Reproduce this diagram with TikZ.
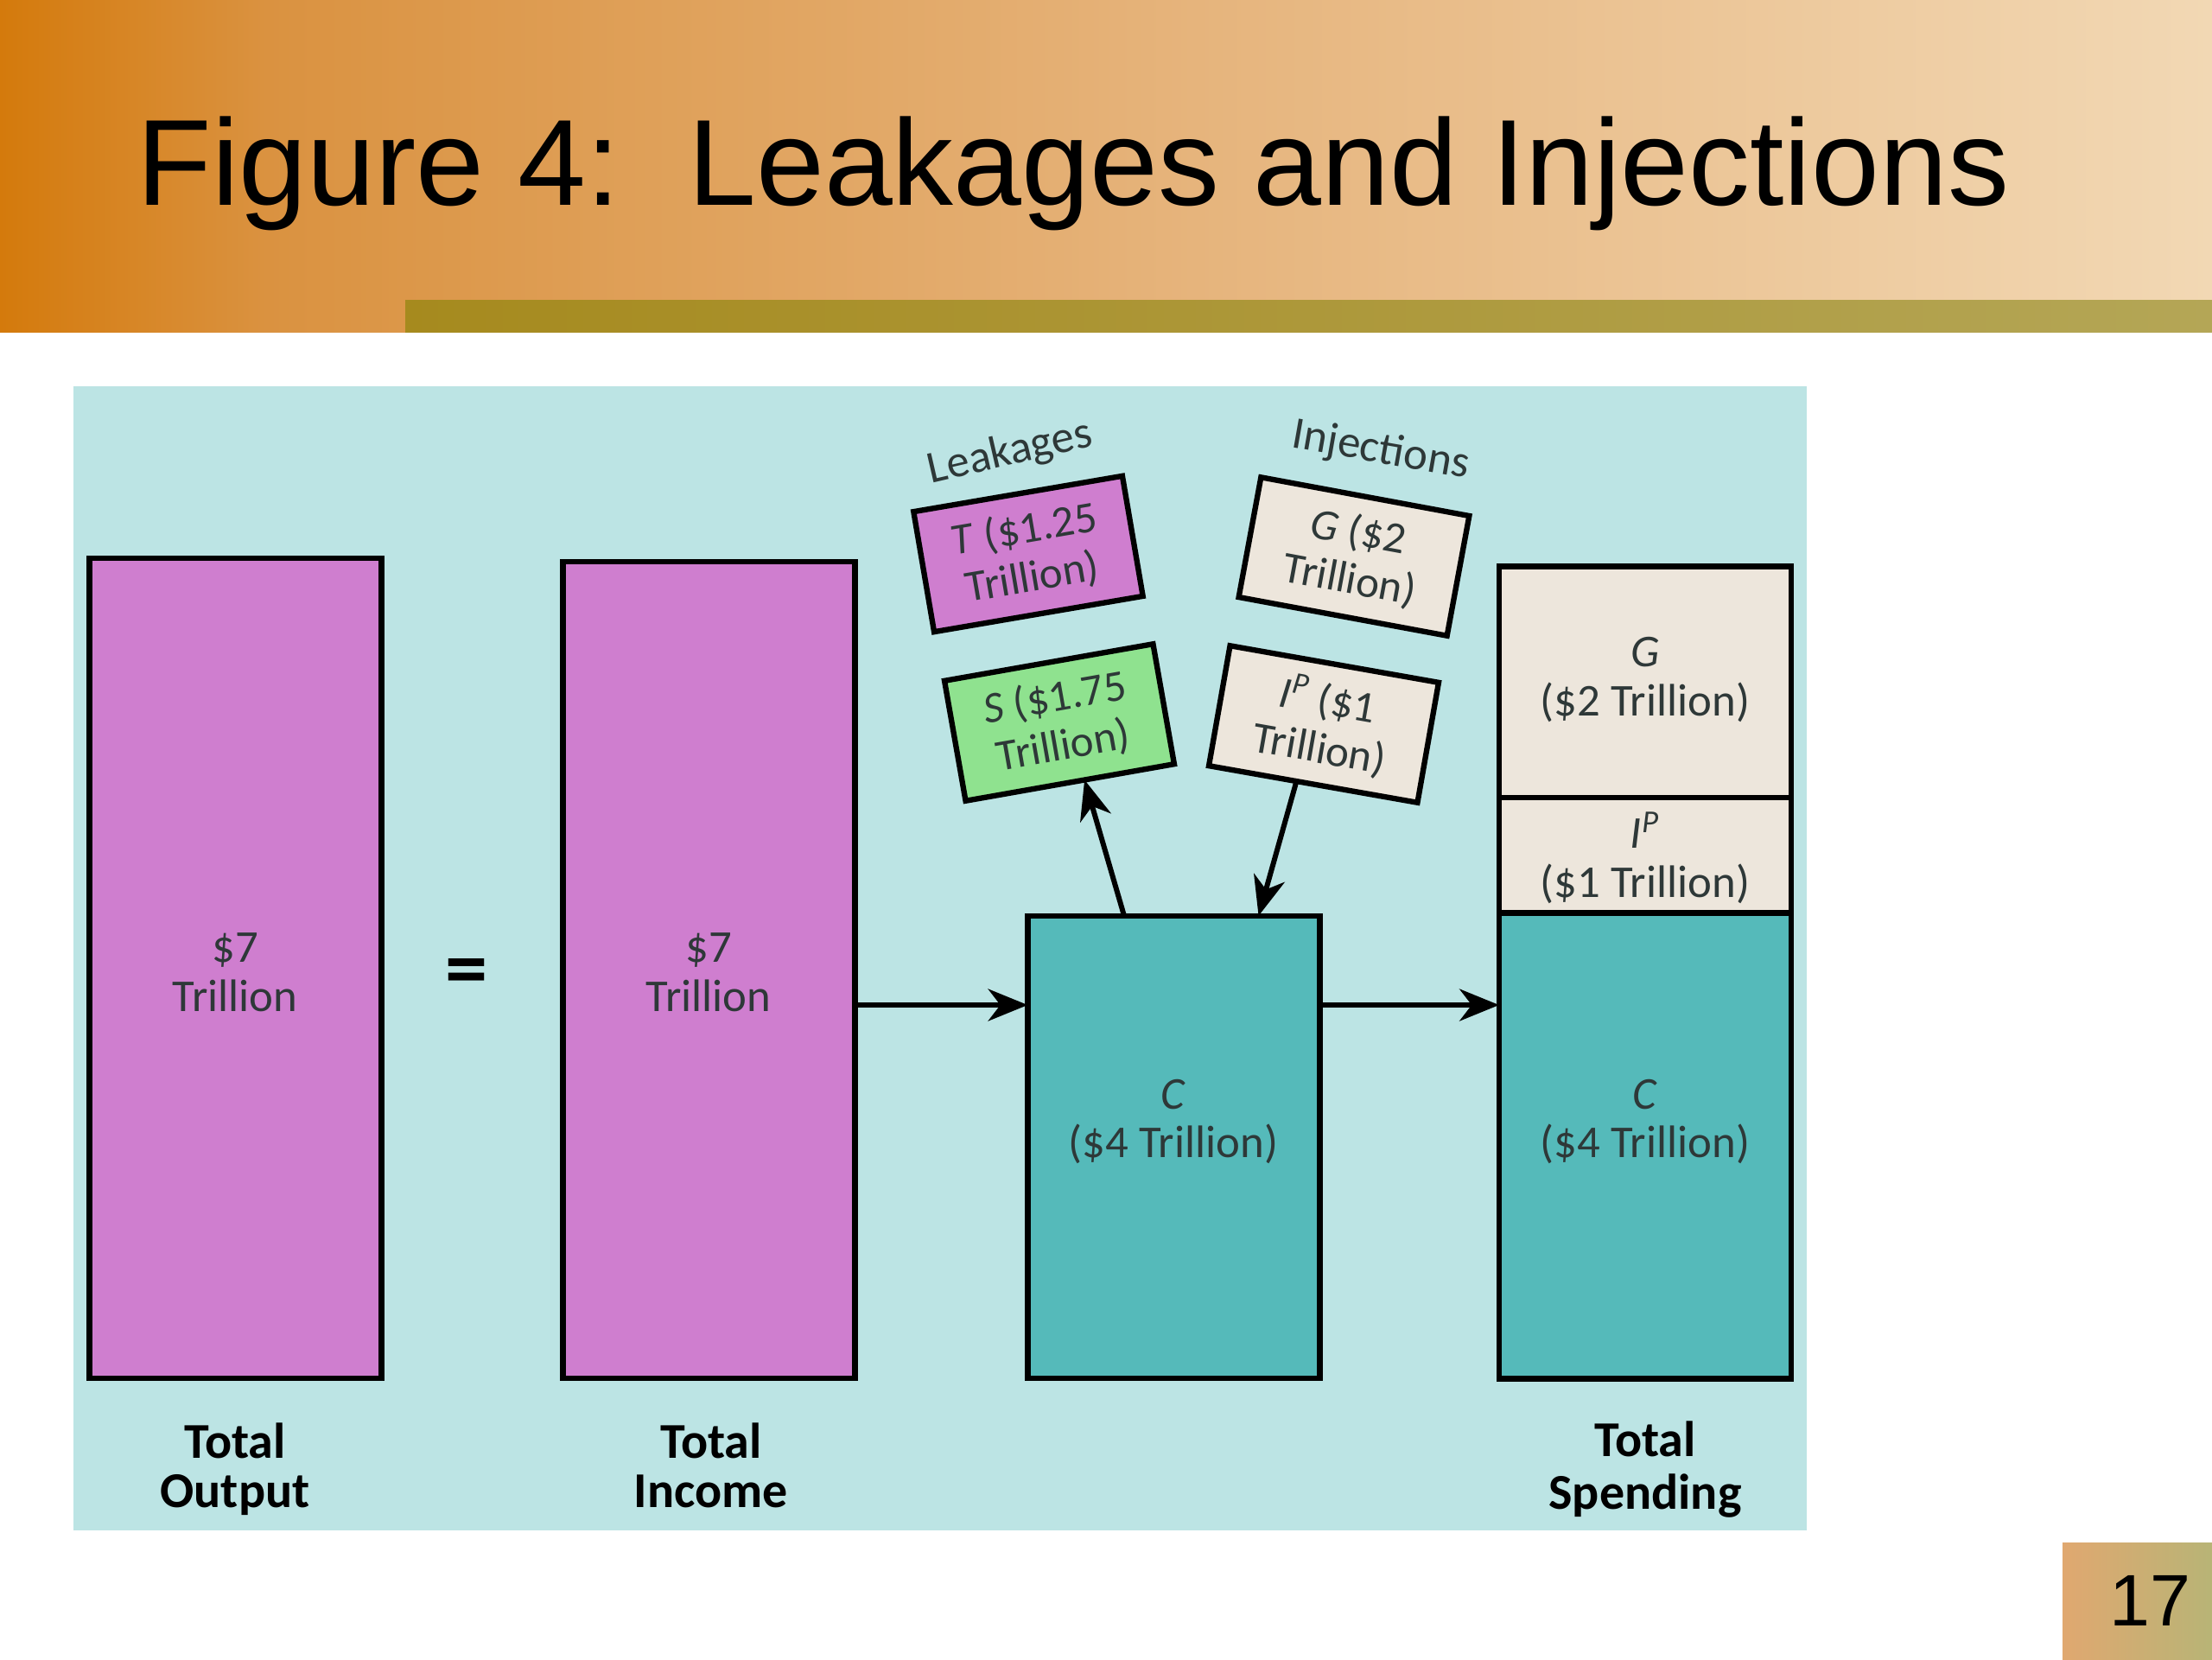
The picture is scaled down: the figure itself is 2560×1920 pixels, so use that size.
\documentclass[tikz,border=0pt]{standalone}
\usepackage{fontspec}
\setmainfont{Liberation Sans}
\newfontfamily\cf{Carlito}
\usetikzlibrary{arrows.meta,calc}
\definecolor{panel}{HTML}{BCE4E4}
\definecolor{mag}{HTML}{CF7ECF}
\definecolor{tealc}{HTML}{55BABA}
\definecolor{beige}{HTML}{EDE6DC}
\definecolor{grn}{HTML}{8FE28F}
\definecolor{txt}{HTML}{2E3838}
\definecolor{tl0}{HTML}{D47A0C}
\definecolor{tl1}{HTML}{DA9240}
\definecolor{tl2}{HTML}{E6B47C}
\definecolor{tl3}{HTML}{F2D8B4}
\definecolor{ol0}{HTML}{A68A1E}
\definecolor{ol1}{HTML}{B4A656}
\definecolor{pg0}{HTML}{E0A870}
\definecolor{pg1}{HTML}{B8B476}
\pgfdeclarehorizontalshading{titlebar}{100bp}{color(0bp)=(tl0); color(25bp)=(tl0); color(31bp)=(tl1); color(52bp)=(tl2); color(75bp)=(tl3); color(100bp)=(tl3)}
\begin{document}
\begin{tikzpicture}[x=0.01cm,y=-0.01cm,
  bar/.style={draw=black,line width=1.8pt,inner sep=0pt,outer sep=0pt,minimum width=3.38cm},
  intext/.style={font=\cf\fontsize{15}{16.2}\selectfont,text=txt,align=center,inner sep=0pt},
  tag/.style={draw=black,line width=1.8pt,inner sep=0pt,outer sep=0pt,minimum width=2.45cm,minimum height=1.41cm,font=\cf\fontsize{14.5}{16}\selectfont,text=txt,align=center},
  total/.style={font=\cf\bfseries\fontsize{16.5}{16.2}\selectfont,align=center,inner sep=0pt},
  flow/.style={-{Stealth[length=13pt,width=10.5pt,inset=4pt]},line width=1.7pt},
  grp/.style={font=\cf\fontsize{15}{18}\selectfont,text=txt,inner sep=0pt}]
\useasboundingbox (0,0) rectangle (2560,1920);
\fill[white] (0,0) rectangle (2560,1920);
% title bar
\shade[shading=titlebar] (0,0) rectangle (2560,384);
\shade[left color=ol0,right color=ol1] (469,347) rectangle (2560,384);
\node[anchor=base west,inner sep=0pt,font=\fontsize{40.3}{48}\selectfont] (title) at (158,237) {Figure 4:~~Leakages and Injections};
% panel
\fill[panel] (85,447) rectangle (2091,1771);
% bars
\node[bar,fill=mag,minimum height=9.48cm] (out) at (272.5,1120.5) {};
\node[intext] (outt) at (272,1125) {\$7\\Trillion};
\node[bar,fill=mag,minimum height=9.45cm] (inc) at (820.5,1122.5) {};
\node[intext] (inct) at (820,1125) {\$7\\Trillion};
\node[font=\cf\bfseries\fontsize{28}{30}\selectfont,inner sep=0pt] (eq) at (540,1132) {=};
\node[bar,fill=tealc,minimum height=5.35cm] (cbox) at (1358.5,1327.5) {};
\node[intext] (ct) at (1358,1298) {\textit{C}\\(\$4 Trillion)};
% spending column
\node[bar,fill=beige,minimum height=2.675cm] (sg) at (1904,789.25) {};
\node[intext] (sgt) at (1904,787) {\textit{G}\\(\$2 Trillion)};
\node[bar,fill=beige,minimum height=1.34cm] (si) at (1904,990) {};
\node[intext] (sit) at (1904,993) {\textit{I}\textsuperscript{\textit{P}}\\(\$1 Trillion)};
\node[bar,fill=tealc,minimum height=5.385cm] (sc) at (1904,1326) {};
\node[intext] (sct) at (1904,1298) {\textit{C}\\(\$4 Trillion)};
% totals
\node[total] (tout) at (272,1704) {Total\strut\\Output\strut};
\node[total] (tinc) at (823,1704) {Total\strut\\Income\strut};
\node[total] (tspd) at (1904,1704) {Total\strut\\Spending\strut};
% leakages / injections
\node[grp,rotate=13] (leak) at (1169,524) {Leakages};
\node[grp,rotate=-10] (inj) at (1598,522) {Injections};
\node[tag,fill=mag,rotate=9.7] (T) at (1190,641) {\textit{T} (\$1.25\\Trillion)};
\node[tag,fill=grn,rotate=10] (S) at (1226,836) {\textit{S} (\$1.75\\Trillion)};
\node[tag,fill=beige,rotate=-10.5] (G) at (1567,644) {\textit{G} (\$2\\Trillion)};
\node[tag,fill=beige,rotate=-10] (IP) at (1532,838) {\textit{I}\textsuperscript{\textit{P}} (\$1\\Trillion)};
% arrows
\coordinate (flowy) at (0,1163);
\draw[flow] (inc.east |- flowy) -- (cbox.west |- flowy);
\draw[flow] (cbox.east |- flowy) -- (sc.west |- flowy);
\draw[flow] ($(cbox.north west)!0.33!(cbox.north east)$) -- ($(S.south west)!0.57!(S.south east)$);
\draw[flow] ($(IP.south west)!0.42!(IP.south east)$) -- ($(cbox.north west)!0.79!(cbox.north east)$);
% page number
\shade[left color=pg0,right color=pg1] (2387,1785) rectangle (2560,1920);
\node[font=\fontsize{24}{28}\selectfont,inner sep=0pt] (pg) at (2488,1852) {17};
\end{tikzpicture}
\end{document}
